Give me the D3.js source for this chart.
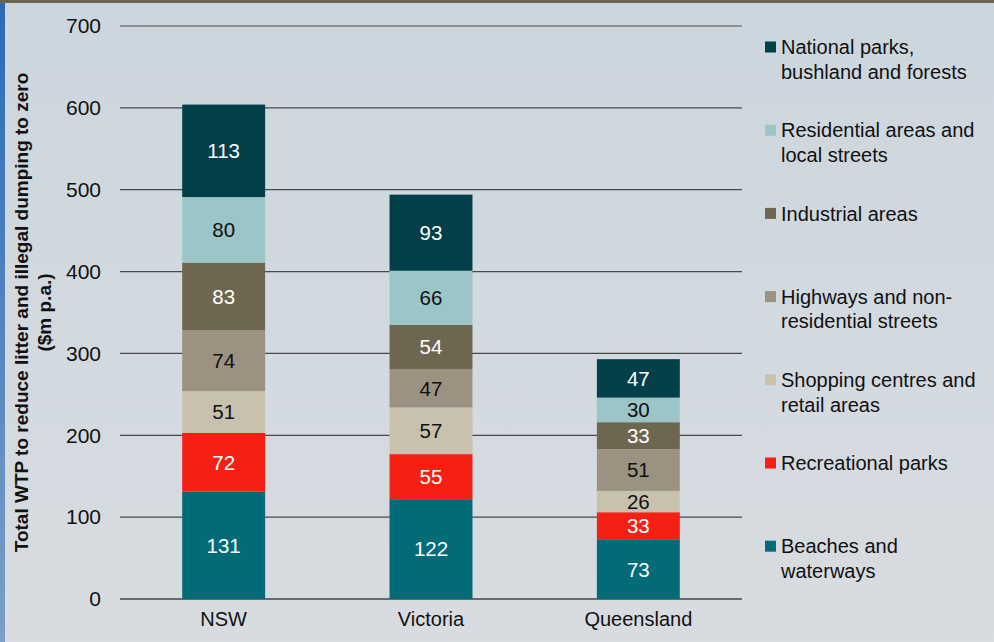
<!DOCTYPE html>
<html><head><meta charset="utf-8">
<script src="https://cdn.jsdelivr.net/npm/d3@7"></script>
<style>html,body{margin:0;padding:0;}svg{display:block;}</style>
</head><body>
<svg id="chart" width="994" height="642"></svg>
<script>
const states = ["NSW", "Victoria", "Queensland"];
const seriesNames = [
  "Beaches and waterways",
  "Recreational parks",
  "Shopping centres and retail areas",
  "Highways and non-residential streets",
  "Industrial areas",
  "Residential areas and local streets",
  "National parks, bushland and forests"
];
const legendLines = [
  ["Beaches and", "waterways"],
  ["Recreational parks"],
  ["Shopping centres and", "retail areas"],
  ["Highways and non-", "residential streets"],
  ["Industrial areas"],
  ["Residential areas and", "local streets"],
  ["National parks,", "bushland and forests"]
];
const beaches = [131, 122, 73];
const recreational = [72, 55, 33];
const shopping = [51, 57, 26];
const highways = [74, 47, 51];
const industrial = [83, 54, 33];
const residential = [80, 66, 30];
const national = [113, 93, 47];
const seriesValues = [beaches, recreational, shopping, highways, industrial, residential, national];
const colors = ["#026b78", "#f51f13", "#c8c1ae", "#9b9282", "#6e6750", "#9cc5c8", "#023f49"];
const labelColors = ["#fff", "#fff", "#111", "#111", "#fff", "#111", "#fff"];
const yTicks = [0, 100, 200, 300, 400, 500, 600, 700];

const svg = d3.select("#chart");
const W = 994, H = 642;
const defs = svg.append("defs");
const bg = defs.append("linearGradient").attr("id", "bg").attr("x1", 0).attr("y1", 0).attr("x2", 0).attr("y2", 1);
bg.append("stop").attr("offset", "0%").attr("stop-color", "#ccd6de");
bg.append("stop").attr("offset", "100%").attr("stop-color", "#d8dce0");
const lb = defs.append("linearGradient").attr("id", "lb").attr("x1", 0).attr("y1", 0).attr("x2", 0).attr("y2", 1);
lb.append("stop").attr("offset", "0%").attr("stop-color", "#2a6ab6");
lb.append("stop").attr("offset", "100%").attr("stop-color", "#7b9fc9");

svg.append("rect").attr("width", W).attr("height", H).attr("fill", "url(#bg)");
svg.append("rect").attr("x", 0).attr("y", 0).attr("width", 5).attr("height", H).attr("fill", "url(#lb)");
svg.append("rect").attr("x", 0).attr("y", 0).attr("width", W).attr("height", 3).attr("fill", "#6b6550");

const font = "'Liberation Sans', Arial, sans-serif";
const x0 = 120, x1 = 742, yTop = 26, yBot = 599;
const x = d3.scaleBand().domain(states).range([x0, x1]).paddingInner(0.6).paddingOuter(0.3);
const y = d3.scaleLinear().domain([0, 700]).range([yBot, yTop]);

// gridlines
svg.append("g").selectAll("line").data(yTicks).join("line")
  .attr("x1", x0).attr("x2", x1)
  .attr("y1", d => y(d)).attr("y2", d => y(d))
  .attr("stroke", d => d === 0 ? "#6a6a6a" : "#4a4a4a").attr("stroke-width", d => d === 0 ? 2 : 1.2);

// y axis labels
const yAxis = d3.axisLeft(y).tickValues(yTicks).tickSize(0).tickPadding(0);
const ya = svg.append("g").attr("transform", "translate(101,0)").call(yAxis);
ya.select(".domain").remove();
ya.selectAll("text").attr("font-family", font).attr("font-size", 21).attr("fill", "#111");

// x axis labels
const xAxis = d3.axisBottom(x).tickSize(0).tickPadding(0);
const xa = svg.append("g").attr("transform", `translate(0,${yBot + 13})`).call(xAxis);
xa.select(".domain").remove();
xa.selectAll("text").attr("font-family", font).attr("font-size", 20).attr("fill", "#111");

// stacked bars
const rows = states.map((s, i) => {
  const r = { state: s };
  seriesNames.forEach((n, k) => r[n] = seriesValues[k][i]);
  return r;
});
const stack = d3.stack().keys(seriesNames)(rows);
const layers = svg.append("g").selectAll("g").data(stack).join("g")
  .attr("fill", (d, k) => colors[k]);
layers.selectAll("rect").data(d => d).join("rect")
  .attr("x", d => x(d.data.state))
  .attr("width", x.bandwidth())
  .attr("y", d => y(d[1]))
  .attr("height", d => y(d[0]) - y(d[1]));
layers.each(function (layer, k) {
  d3.select(this).selectAll("text").data(layer).join("text")
    .attr("x", d => x(d.data.state) + x.bandwidth() / 2)
    .attr("y", d => (y(d[0]) + y(d[1])) / 2)
    .attr("dy", "0.36em")
    .attr("text-anchor", "middle")
    .attr("font-family", font).attr("font-size", 20.5)
    .attr("fill", labelColors[k])
    .text(d => d[1] - d[0]);
});

// y title
const yt = svg.append("text")
  .attr("transform", `translate(28,${(yTop + yBot) / 2}) rotate(-90)`)
  .attr("text-anchor", "middle")
  .attr("font-family", font).attr("font-size", 19).attr("font-weight", "bold").attr("fill", "#111");
yt.append("tspan").attr("x", 0).attr("dy", 0).text("Total WTP to reduce litter and illegal dumping to zero");
yt.append("tspan").attr("x", 0).attr("dy", 23).text("($m p.a.)");

// legend (top-to-bottom reversed order)
const legendOrder = d3.range(seriesNames.length).reverse();
const lg = svg.append("g");
legendOrder.forEach((k, idx) => {
  const cy = 47 + idx * 83.2;
  lg.append("rect").attr("x", 765).attr("y", cy - 5.5).attr("width", 11).attr("height", 11).attr("fill", colors[k]);
  const t = lg.append("text").attr("font-family", font).attr("font-size", 20).attr("fill", "#111");
  legendLines[k].forEach((line, j) => {
    t.append("tspan").attr("x", 781).attr("y", cy + j * 24.5).attr("dy", "0.36em").text(line);
  });
});
</script>
</body></html>
